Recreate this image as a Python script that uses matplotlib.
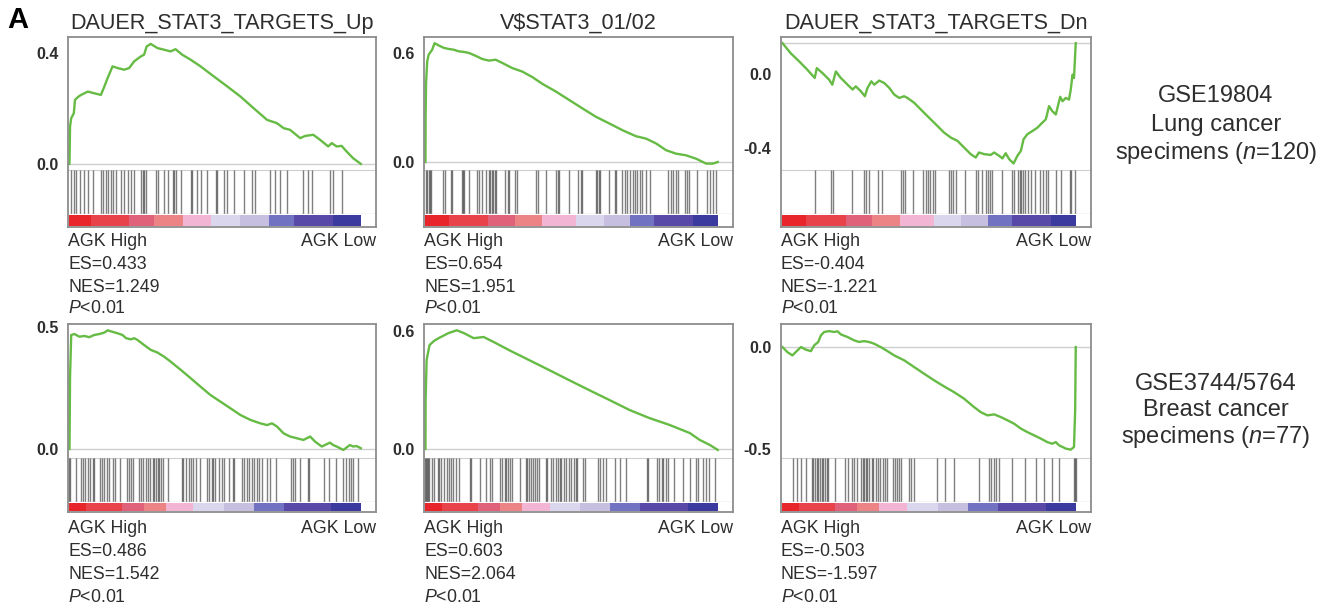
import matplotlib
matplotlib.use("Agg")
import matplotlib.pyplot as plt

plt.rcParams['font.family'] = ['Liberation Sans', 'DejaVu Sans']
plt.rcParams['mathtext.fontset'] = 'custom'
plt.rcParams['mathtext.it'] = 'Liberation Sans:italic'
plt.rcParams['mathtext.rm'] = 'Liberation Sans'

W, H = 1336, 607

# ---- data ----
titles = ['DAUER_STAT3_TARGETS_Up', r'V\$STAT3_01/02', 'DAUER_STAT3_TARGETS_Dn']
cohort_labels = [['GSE19804', 'Lung cancer', 'specimens ($n$=120)'],
                 ['GSE3744/5764', 'Breast cancer', 'specimens ($n$=77)']]
es_vals = ['0.433', '0.654', '-0.404', '0.486', '0.603', '-0.503']
nes_vals = ['1.249', '1.951', '-1.221', '1.542', '2.064', '-1.597']
p_vals = ['0.01'] * 6

# running enrichment score, x = fraction of ranked list
p1_x = [0, 0.001, 0.002, 0.006, 0.015, 0.019, 0.031, 0.040, 0.063, 0.085, 0.108, 0.120, 0.131,
        0.148, 0.165, 0.188, 0.205, 0.222, 0.245, 0.256, 0.265, 0.279, 0.302, 0.325, 0.347,
        0.364, 0.387, 0.416, 0.450, 0.495, 0.541, 0.587, 0.632, 0.678, 0.712, 0.735, 0.757,
        0.792, 0.809, 0.837, 0.860, 0.888, 0.900, 0.917, 0.934, 0.951, 0.974, 1.0]
p1_es = [0, 0.063, 0.135, 0.165, 0.183, 0.231, 0.243, 0.249, 0.261, 0.255, 0.249, 0.280, 0.310,
         0.352, 0.346, 0.340, 0.346, 0.370, 0.388, 0.394, 0.424, 0.433, 0.418, 0.412, 0.406,
         0.414, 0.394, 0.376, 0.352, 0.316, 0.280, 0.243, 0.201, 0.159, 0.147, 0.129, 0.123,
         0.093, 0.101, 0.105, 0.087, 0.063, 0.075, 0.063, 0.065, 0.045, 0.020, 0.0]

p2_x = [0, 0.0005, 0.002, 0.006, 0.011, 0.023, 0.031, 0.046, 0.063, 0.080, 0.097, 0.114, 0.131,
        0.149, 0.171, 0.194, 0.217, 0.240, 0.263, 0.297, 0.331, 0.366, 0.400, 0.446, 0.491,
        0.537, 0.583, 0.629, 0.674, 0.720, 0.754, 0.789, 0.823, 0.857, 0.891, 0.926, 0.949,
        0.960, 0.983, 1.0]
p2_es = [0, 0.249, 0.434, 0.554, 0.591, 0.618, 0.654, 0.641, 0.628, 0.622, 0.618, 0.609, 0.606,
         0.600, 0.585, 0.567, 0.558, 0.563, 0.545, 0.517, 0.498, 0.467, 0.430, 0.388, 0.342,
         0.295, 0.249, 0.212, 0.175, 0.142, 0.129, 0.102, 0.065, 0.046, 0.037, 0.018, 0.0,
         -0.009, -0.009, 0.0]

p3_x = [0, 0.028, 0.057, 0.085, 0.110, 0.117, 0.136, 0.159, 0.170, 0.182, 0.199, 0.222, 0.239,
        0.250, 0.267, 0.281, 0.290, 0.303, 0.313, 0.330, 0.347, 0.364, 0.381, 0.398, 0.415,
        0.426, 0.449, 0.483, 0.517, 0.551, 0.574, 0.597, 0.619, 0.642, 0.659, 0.670, 0.688,
        0.710, 0.722, 0.739, 0.750, 0.761, 0.773, 0.788, 0.801, 0.813, 0.822, 0.835, 0.852,
        0.869, 0.886, 0.898, 0.909, 0.920, 0.932, 0.947, 0.955, 0.966, 0.977, 0.983, 0.989,
        0.994, 1.0]
p3_es = [0.164, 0.110, 0.066, 0.021, -0.023, 0.030, 0.004, -0.032, -0.059, 0.012, -0.023, -0.059,
         -0.085, -0.068, -0.094, -0.121, -0.076, -0.041, -0.059, -0.037, -0.050, -0.076, -0.112,
         -0.130, -0.121, -0.130, -0.156, -0.210, -0.263, -0.316, -0.343, -0.361, -0.396, -0.432,
         -0.450, -0.423, -0.432, -0.436, -0.423, -0.441, -0.455, -0.427, -0.459, -0.482, -0.441,
         -0.414, -0.352, -0.325, -0.308, -0.290, -0.263, -0.245, -0.174, -0.201, -0.219, -0.124,
         -0.148, -0.130, -0.139, -0.085, -0.005, -0.023, 0.164]

p4_x = [0, 0.0005, 0.002, 0.006, 0.017, 0.034, 0.051, 0.068, 0.085, 0.103, 0.120, 0.131, 0.148,
        0.165, 0.182, 0.194, 0.211, 0.222, 0.233, 0.256, 0.279, 0.302, 0.325, 0.347, 0.382,
        0.416, 0.450, 0.484, 0.518, 0.552, 0.587, 0.621, 0.655, 0.678, 0.695, 0.712, 0.735,
        0.757, 0.780, 0.803, 0.826, 0.843, 0.866, 0.894, 0.905, 0.917, 0.940, 0.962, 0.974,
        0.985, 1.0]
p4_es = [0, 0.051, 0.296, 0.467, 0.471, 0.460, 0.463, 0.458, 0.467, 0.471, 0.477, 0.486, 0.480,
         0.474, 0.467, 0.454, 0.449, 0.454, 0.447, 0.426, 0.406, 0.395, 0.378, 0.358, 0.324,
         0.290, 0.255, 0.221, 0.194, 0.167, 0.139, 0.119, 0.105, 0.098, 0.105, 0.092, 0.064,
         0.051, 0.044, 0.037, 0.051, 0.030, 0.010, 0.026, 0.016, 0.010, -0.004, 0.016, 0.010,
         0.012, 0.003]

p5_x = [0, 0.0005, 0.004, 0.014, 0.030, 0.045, 0.079, 0.107, 0.131, 0.165, 0.199, 0.234, 0.285,
        0.354, 0.423, 0.491, 0.560, 0.629, 0.698, 0.766, 0.835, 0.904, 0.938, 0.973, 1.0]
p5_es = [0, 0.249, 0.452, 0.528, 0.550, 0.563, 0.589, 0.603, 0.589, 0.563, 0.569, 0.543, 0.503,
         0.452, 0.401, 0.350, 0.299, 0.249, 0.198, 0.157, 0.122, 0.081, 0.046, 0.020, -0.005]

p6_x = [0, 0.017, 0.034, 0.045, 0.063, 0.080, 0.097, 0.108, 0.122, 0.131, 0.142, 0.159, 0.176,
        0.188, 0.199, 0.222, 0.244, 0.261, 0.278, 0.295, 0.313, 0.335, 0.358, 0.381, 0.415,
        0.449, 0.483, 0.517, 0.551, 0.585, 0.619, 0.653, 0.676, 0.699, 0.722, 0.744, 0.767,
        0.790, 0.813, 0.835, 0.858, 0.881, 0.903, 0.920, 0.932, 0.943, 0.955, 0.966, 0.983,
        0.994, 0.998, 1.0]
p6_es = [0, -0.025, -0.041, -0.025, 0.0, -0.013, -0.020, 0.008, 0.025, 0.057, 0.074, 0.078, 0.074,
         0.077, 0.062, 0.049, 0.033, 0.025, 0.029, 0.025, 0.016, 0.0, -0.020, -0.041, -0.065,
         -0.098, -0.131, -0.163, -0.193, -0.221, -0.253, -0.294, -0.319, -0.335, -0.330, -0.343,
         -0.359, -0.376, -0.400, -0.417, -0.433, -0.449, -0.466, -0.474, -0.466, -0.482, -0.490,
         -0.498, -0.503, -0.490, -0.310, 0.0]

# gene set member ranks (out of n ranked genes)
p1_n = 879
p1_hits = [6, 14, 21, 31, 44, 56, 71, 94, 101, 111, 116, 124, 131, 141, 156, 166, 176, 186, 196,
           216, 221, 226, 231, 261, 266, 286, 296, 311, 314, 321, 336, 366, 371, 386, 396, 416,
           441, 446, 466, 476, 496, 526, 551, 561, 606, 621, 636, 656, 706, 721, 731, 786, 796,
           821]
p2_n = 873
p2_hits = [2, 6, 10, 15, 18, 52, 58, 75, 78, 108, 112, 116, 130, 155, 160, 168, 180, 190, 193,
           198, 202, 208, 212, 238, 245, 250, 268, 272, 330, 335, 360, 390, 395, 400, 428, 455,
           465, 468, 508, 512, 518, 522, 548, 565, 570, 588, 595, 602, 610, 620, 625, 632, 640,
           648, 658, 670, 725, 732, 740, 748, 755, 775, 780, 788, 810, 842, 850, 858, 868]
p3_n = 880
p3_hits = [97, 147, 152, 210, 244, 250, 260, 287, 300, 357, 362, 367, 392, 422, 430, 437, 444,
           452, 457, 500, 507, 512, 522, 547, 582, 587, 600, 610, 617, 624, 630, 660, 690, 694,
           707, 712, 717, 722, 727, 737, 747, 757, 772, 782, 790, 797, 822, 837, 862, 867, 877]
p4_n = 875
p4_hits = [0, 2, 20, 35, 40, 48, 55, 62, 70, 75, 92, 98, 105, 112, 120, 130, 138, 152, 172, 178,
           185, 190, 208, 215, 220, 230, 235, 242, 250, 255, 260, 265, 270, 275, 280, 295, 338,
           342, 350, 358, 365, 372, 380, 392, 412, 418, 428, 432, 438, 450, 458, 465, 480, 490,
           495, 518, 525, 532, 540, 548, 555, 562, 570, 578, 592, 602, 620, 665, 672, 678, 692,
           715, 720, 765, 780, 800, 822, 830, 838, 845, 850, 865]
p5_n = 875
p5_hits = [0, 2, 4, 7, 12, 20, 27, 37, 42, 47, 54, 64, 70, 77, 82, 90, 100, 132, 137, 162, 182,
           194, 200, 224, 230, 237, 242, 247, 252, 260, 282, 300, 304, 310, 317, 322, 327, 334,
           340, 360, 364, 377, 382, 390, 397, 402, 407, 414, 422, 430, 437, 444, 450, 454, 472,
           477, 517, 522, 532, 540, 567, 582, 600, 662, 667, 694, 700, 707, 712, 720, 727, 744,
           772, 792, 810, 817, 830, 840, 850, 867]
p6_n = 877
p6_hits = [32, 42, 54, 70, 87, 92, 97, 102, 107, 112, 117, 122, 127, 132, 137, 157, 187, 197,
           207, 214, 224, 234, 240, 244, 250, 254, 260, 267, 272, 280, 287, 292, 300, 307, 312,
           332, 337, 342, 347, 354, 377, 384, 394, 462, 487, 512, 587, 617, 624, 634, 640, 647,
           687, 724, 757, 782, 807, 827, 872, 874, 877]

# ranked list metric colour blocks (high -> low)
block_colors = ['#e8252b', '#e8434b', '#e0627a', '#ec8384', '#f2b6d4',
                '#d9d6ee', '#c6bfe0', '#7272c2', '#5848a8', '#3b3b9f']
p1_edges = [0, 0.075, 0.206, 0.291, 0.388, 0.485, 0.585, 0.684, 0.769, 0.906, 1.0]
row1_edges = [0, 0.08, 0.215, 0.305, 0.40, 0.515, 0.61, 0.70, 0.783, 0.916, 1.0]
row2_edges = [0, 0.058, 0.18, 0.255, 0.33, 0.425, 0.53, 0.632, 0.735, 0.899, 1.0]

panels = [
    dict(x=p1_x, es=p1_es, hits=p1_hits, n=p1_n, edges=p1_edges, base=0.0,
         ylim=(-0.022, 0.458), ticks=[0.0, 0.4]),
    dict(x=p2_x, es=p2_es, hits=p2_hits, n=p2_n, edges=row1_edges, base=0.0,
         ylim=(-0.044, 0.688), ticks=[0.0, 0.6]),
    dict(x=p3_x, es=p3_es, hits=p3_hits, n=p3_n, edges=row1_edges, base=0.164,
         ylim=(-0.517, 0.197), ticks=[-0.4, 0.0]),
    dict(x=p4_x, es=p4_es, hits=p4_hits, n=p4_n, edges=row2_edges, base=0.0,
         ylim=(-0.037, 0.512), ticks=[0.0, 0.5]),
    dict(x=p5_x, es=p5_es, hits=p5_hits, n=p5_n, edges=row2_edges, base=0.0,
         ylim=(-0.046, 0.635), ticks=[0.0, 0.6]),
    dict(x=p6_x, es=p6_es, hits=p6_hits, n=p6_n, edges=row2_edges, base=0.0,
         ylim=(-0.544, 0.113), ticks=[-0.5, 0.0]),
]

# ---- layout (pixels) ----
col_left = [68, 424, 781]
col_right = [376, 733, 1091]
# top, end of ES area, end of hits area, bottom of box
row_y = [(37, 170, 214, 227), (324, 458, 502, 512)]
txt_base = [(246, 269, 292, 313), (533, 556, 579, 602)]

TXT = '#2e2e2e'
GREEN = '#66bb44'
FRAME = '#8c8c8c'
LIGHT = '#cfcfcf'


def px_rect(x0, y0, x1, y1):
    return [x0 / W, 1 - y1 / H, (x1 - x0) / W, (y1 - y0) / H]


fig = plt.figure(figsize=(W / 100, H / 100), dpi=100)

for i, p in enumerate(panels):
    r, c = divmod(i, 3)
    x0, x1 = col_left[c], col_right[c]
    top, es_bot, hit_bot, bot = row_y[r]
    xlim = (-0.005, 1.052)

    # enrichment score curve
    ax = fig.add_axes(px_rect(x0, top, x1, es_bot))
    ax.plot(p['x'], p['es'], color=GREEN, lw=1.7, zorder=3)
    ax.axhline(p['base'], color=LIGHT, lw=1.0, zorder=1)
    ax.set_xlim(*xlim)
    ax.set_ylim(*p['ylim'])
    ax.set_xticks([])
    ax.set_yticks(p['ticks'])
    ax.set_yticklabels(['%.1f' % t for t in p['ticks']], fontsize=11.5,
                       fontweight='bold', color=TXT)
    ax.tick_params(axis='y', length=0, pad=7)
    for s in ['top', 'left', 'right']:
        ax.spines[s].set_visible(False)
    ax.spines['bottom'].set_color(LIGHT)

    # hit lines
    axh = fig.add_axes(px_rect(x0, es_bot, x1, hit_bot))
    axh.vlines([h / p['n'] for h in p['hits']], 0, 1, color='black', alpha=0.5, lw=1.0)
    axh.set_xlim(*xlim)
    axh.set_ylim(0, 1)
    axh.axis('off')
    axh.axhline(0, color=LIGHT, lw=1.0)

    # ranked list colour bar
    axb = fig.add_axes(px_rect(x0, hit_bot, x1, bot))
    e = p['edges']
    axb.bar(e[:-1], 0.8, width=[e[k + 1] - e[k] for k in range(len(e) - 1)],
            bottom=0.1, align='edge', color=block_colors, linewidth=0)
    axb.set_xlim(*xlim)
    axb.set_ylim(0, 1)
    axb.axis('off')

    # outer frame
    axf = fig.add_axes(px_rect(x0, top, x1, bot))
    axf.patch.set_visible(False)
    axf.set_xticks([])
    axf.set_yticks([])
    for s in axf.spines.values():
        s.set_color(FRAME)
        s.set_linewidth(1.3)

    if r == 0:
        fig.text((x0 + x1) / 2 / W, 1 - 29 / H, titles[c], ha='center', va='baseline',
                 fontsize=15.6, color=TXT)

    b = txt_base[r]
    fig.text(x0 / W, 1 - b[0] / H, 'AGK High', ha='left', va='baseline', fontsize=12.8, color=TXT)
    fig.text(x1 / W, 1 - b[0] / H, 'AGK Low', ha='right', va='baseline', fontsize=12.8, color=TXT)
    fig.text(x0 / W, 1 - b[1] / H, 'ES=' + es_vals[i], ha='left', va='baseline',
             fontsize=12.8, color=TXT)
    fig.text(x0 / W, 1 - b[2] / H, 'NES=' + nes_vals[i], ha='left', va='baseline',
             fontsize=12.8, color=TXT)
    fig.text(x0 / W, 1 - b[3] / H, '$P$<' + p_vals[i], ha='left', va='baseline',
             fontsize=12.8, color=TXT)

# cohort labels on the right
label_base = [(102, 131.5, 158.5), (389.5, 416.5, 443.5)]
for r in range(2):
    for k, line in enumerate(cohort_labels[r]):
        fig.text(1216 / W, 1 - label_base[r][k] / H, line, ha='center', va='baseline',
                 fontsize=17, color=TXT)

fig.text(7 / W, 1 - 28 / H, 'A', ha='left', va='baseline', fontsize=21,
         fontweight='bold', color='black')

fig.savefig('out.png', dpi=100)
